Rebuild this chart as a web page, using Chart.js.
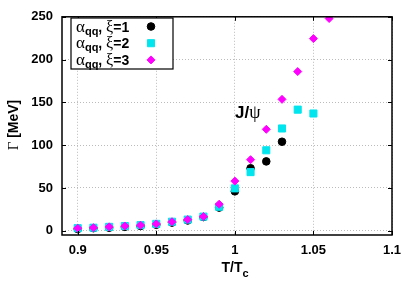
<!DOCTYPE html>
<html><head><meta charset="utf-8">
<script src="https://cdn.jsdelivr.net/npm/chart.js@4/dist/chart.umd.min.js"></script>
<style>html,body{margin:0;padding:0;background:#fff}#w{width:415px;height:291px}</style>
</head><body><div id="w"><canvas id="c" width="415" height="291"></canvas></div>
<script>
const xTicks = [0.9, 0.95, 1, 1.05, 1.1];
const xTickLabels = ['0.9', '0.95', '1', '1.05', '1.1'];
const yTicks = [0, 50, 100, 150, 200, 250];
const yTickLabels = ['0', '50', '100', '150', '200', '250'];

const tXi1 = [0.90,0.91,0.92,0.93,0.94,0.95,0.96,0.97,0.98,0.99,1.00,1.01,1.02,1.03];
const gXi1 = [2,3,3.5,4.5,5.5,7,9.5,12,16,27,46,73,81,104];
const tXi2 = [0.90,0.91,0.92,0.93,0.94,0.95,0.96,0.97,0.98,0.99,1.00,1.01,1.02,1.03,1.04,1.05];
const gXi2 = [3,3.5,4.5,5.5,6.5,8,10.5,13,16.5,28,49.5,68.5,94,119.5,141.5,137];
const tXi3 = [0.90,0.91,0.92,0.93,0.94,0.95,0.96,0.97,0.98,0.99,1.00,1.01,1.02,1.03,1.04,1.05,1.06];
const gXi3 = [3,3.5,4.5,5.5,6.5,8,10.5,13,16.5,31,58,83,118.5,153.5,186,224.5,248];
const legendXi = ['1', '2', '3'];

const pts = (xs, ys) => xs.map((x, i) => ({x, y: ys[i]}));
const styles = [
  {color:'#000000', pointStyle:'circle', r:3.8},
  {color:'#00e5ee', pointStyle:'rect', r:5},
  {color:'#ff00ff', pointStyle:'rectRot', r:4}
];
const SANS = '"Liberation Sans", Arial, sans-serif';
const SERIF = '"Liberation Serif", "DejaVu Serif", serif';

const deco = {
  id:'deco',
  afterDatasetsDraw(chart){
    const ctx = chart.ctx, a = chart.chartArea;
    const xs = chart.scales.x, ys = chart.scales.y;
    ctx.save();
    // inward ticks
    ctx.strokeStyle = '#000'; ctx.lineWidth = 1;
    ctx.beginPath();
    xTicks.forEach(v => { const p = Math.round(xs.getPixelForValue(v)) + 0.5;
      ctx.moveTo(p, a.bottom); ctx.lineTo(p, a.bottom - 4);
      ctx.moveTo(p, a.top); ctx.lineTo(p, a.top + 4); });
    yTicks.forEach(v => { const p = Math.round(ys.getPixelForValue(v)) + 0.5;
      ctx.moveTo(a.left, p); ctx.lineTo(a.left + 4, p);
      ctx.moveTo(a.right, p); ctx.lineTo(a.right - 4, p); });
    ctx.stroke();
    // border
    ctx.lineWidth = 1.5;
    ctx.strokeRect(a.left, a.top, a.right - a.left, a.bottom - a.top);
    // legend box
    const lx = 71, ly = 18, lw = 102, lh = 51;
    ctx.fillStyle = '#fff';
    ctx.fillRect(lx, ly, lw, lh);
    ctx.lineWidth = 1.2; ctx.strokeStyle = '#000';
    ctx.strokeRect(lx, ly, lw, lh);
    ctx.textBaseline = 'alphabetic';
    for (let i = 0; i < 3; i++) {
      const cy = 26.5 + i * 16.7;
      const base = cy + 5;
      let x = 76;
      ctx.fillStyle = '#000';
      ctx.font = '17px ' + SERIF; ctx.textAlign = 'left';
      ctx.fillText('α', x, base); x += ctx.measureText('α').width;
      ctx.font = 'bold 11px ' + SANS;
      ctx.fillText('qq', x, base + 3); x += ctx.measureText('qq').width;
      ctx.font = 'bold 14px ' + SANS;
      ctx.fillText(', ', x, base); x += ctx.measureText(', ').width;
      ctx.font = '16px ' + SERIF;
      ctx.fillText('ξ', x, base); x += ctx.measureText('ξ').width;
      ctx.font = 'bold 14px ' + SANS;
      ctx.fillText('=' + legendXi[i], x, base);
      const s = styles[i];
      ctx.fillStyle = s.color; ctx.strokeStyle = s.color; ctx.lineWidth = 1;
      Chart.helpers.drawPoint(ctx, {pointStyle: s.pointStyle, radius: s.r, borderWidth: 1}, 151, cy);
    }
    // J/psi
    ctx.fillStyle = '#000'; ctx.textAlign = 'left';
    ctx.font = 'bold 17px ' + SANS;
    ctx.fillText('J/', 235, 118);
    const jw = ctx.measureText('J/').width;
    ctx.font = '18px ' + SERIF;
    ctx.fillText('ψ', 235 + jw, 118);
    // x title
    ctx.font = 'bold 14px ' + SANS;
    const t1 = 'T/T'; const w1 = ctx.measureText(t1).width;
    ctx.font = 'bold 11px ' + SANS; const w2 = ctx.measureText('c').width;
    const sx = 235 - (w1 + w2) / 2;
    ctx.font = 'bold 14px ' + SANS; ctx.fillText(t1, sx, 272);
    ctx.font = 'bold 11px ' + SANS; ctx.fillText('c', sx + w1, 277);
    // y title
    ctx.translate(18, 125); ctx.rotate(-Math.PI / 2);
    ctx.font = '15px ' + SERIF; const g = 'Γ '; const gw = ctx.measureText(g).width;
    ctx.font = 'bold 14px ' + SANS; const mw = ctx.measureText('[MeV]').width;
    const st = -(gw + mw) / 2;
    ctx.font = '15px ' + SERIF; ctx.fillText(g, st, 0);
    ctx.font = 'bold 14px ' + SANS; ctx.fillText('[MeV]', st + gw, 0);
    ctx.restore();
  }
};

new Chart(document.getElementById('c'), {
  type: 'scatter',
  data: { datasets: [
    {label:'xi1', data: pts(tXi1, gXi1), order: 3},
    {label:'xi2', data: pts(tXi2, gXi2), order: 2},
    {label:'xi3', data: pts(tXi3, gXi3), order: 1}
  ].map((d, i) => Object.assign(d, {
      backgroundColor: styles[i].color, borderColor: styles[i].color,
      pointStyle: styles[i].pointStyle, pointRadius: styles[i].r, pointHoverRadius: styles[i].r,
      borderWidth: 1 })) },
  options: {
    responsive: false, animation: false, devicePixelRatio: 1,
    layout: { padding: { left: 0, top: 16, right: 23, bottom: 0 } },
    plugins: { legend: {display:false}, tooltip: {enabled:false} },
    scales: {
      x: { type:'linear', min: 0.89, max: 1.1,
        afterBuildTicks: s => { s.ticks = xTicks.map(v => ({value: v})); },
        afterFit: s => { s.height = 56; },
        ticks: { padding: 8, color:'#000', font:{family: SANS, size:13, weight:'bold'},
          callback: (v) => xTickLabels[xTicks.indexOf(v)] ?? '' },
        grid: { color:'#aaaaaa', lineWidth: 0.8, drawTicks:false },
        border: { display:false, dash:[1,2] } },
      y: { type:'linear', min: -5, max: 250,
        afterBuildTicks: s => { s.ticks = yTicks.map(v => ({value: v})); },
        afterFit: s => { s.width = 62; },
        ticks: { padding: 9, color:'#000', font:{family: SANS, size:13, weight:'bold'},
          callback: (v) => yTickLabels[yTicks.indexOf(v)] ?? '' },
        grid: { color:'#aaaaaa', lineWidth: 0.8, drawTicks:false },
        border: { display:false, dash:[1,2] } }
    }
  },
  plugins: [deco]
});
</script></body></html>
